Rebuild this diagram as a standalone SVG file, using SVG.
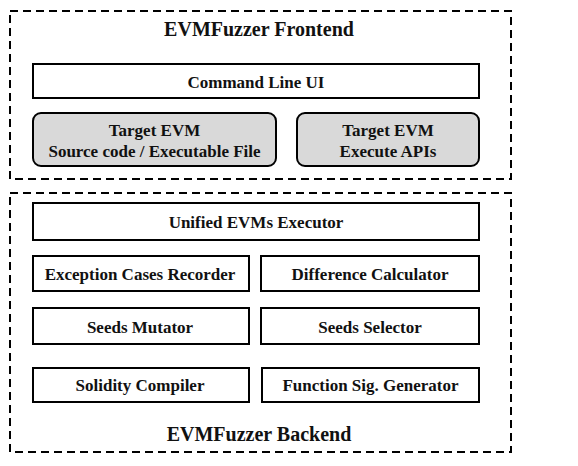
<svg xmlns="http://www.w3.org/2000/svg" width="578" height="466" viewBox="0 0 578 466">
  <style>
    .frame { fill: none; stroke: #000; stroke-width: 2; stroke-dasharray: 8 5; }
    .box { fill: #fff; stroke: #000; stroke-width: 2; }
    .api { fill: #d9d9d9; stroke: #000; stroke-width: 2; }
    text { font-family: "Liberation Serif", "Times New Roman", serif; font-weight: bold; fill: #111; text-anchor: middle; }
    .title { font-size: 20px; }
    .label { font-size: 17px; }
  </style>
  <rect width="578" height="466" fill="#fff"/>

  <!-- Frontend layer -->
  <g id="frontend">
    <rect class="frame" x="10" y="11" width="501" height="168"/>
    <text class="title" x="259" y="36">EVMFuzzer Frontend</text>
  </g>
  <g id="command-line-ui">
    <rect class="box" x="33" y="64" width="446" height="34"/>
    <text class="label" x="256" y="88">Command Line UI</text>
  </g>
  <g id="target-evm-source">
    <rect class="api" x="33" y="113" width="243" height="53" rx="8"/>
    <text class="label" x="154.5" y="136">Target EVM</text>
    <text class="label" x="154.5" y="157">Source code / Executable File</text>
  </g>
  <g id="target-evm-apis">
    <rect class="api" x="297" y="113" width="182" height="53" rx="8"/>
    <text class="label" x="388" y="136">Target EVM</text>
    <text class="label" x="388" y="157">Execute APIs</text>
  </g>

  <!-- Backend layer -->
  <g id="backend">
    <rect class="frame" x="10" y="193" width="501" height="259"/>
    <text class="title" x="259" y="441">EVMFuzzer Backend</text>
  </g>
  <g id="unified-executor">
    <rect class="box" x="33" y="203" width="446" height="37"/>
    <text class="label" x="256" y="228">Unified EVMs Executor</text>
  </g>
  <g id="exception-recorder">
    <rect class="box" x="33" y="256" width="216" height="35"/>
    <text class="label" x="140" y="280">Exception Cases Recorder</text>
  </g>
  <g id="difference-calculator">
    <rect class="box" x="261" y="256" width="218" height="35"/>
    <text class="label" x="370" y="280">Difference Calculator</text>
  </g>
  <g id="seeds-mutator">
    <rect class="box" x="33" y="308" width="216" height="36"/>
    <text class="label" x="140" y="333">Seeds Mutator</text>
  </g>
  <g id="seeds-selector">
    <rect class="box" x="261" y="308" width="218" height="36"/>
    <text class="label" x="370" y="333">Seeds Selector</text>
  </g>
  <g id="solidity-compiler">
    <rect class="box" x="33" y="368" width="216" height="34"/>
    <text class="label" x="140" y="391">Solidity Compiler</text>
  </g>
  <g id="function-sig-generator">
    <rect class="box" x="262" y="368" width="217" height="34"/>
    <text class="label" x="370.5" y="391">Function Sig. Generator</text>
  </g>

  <!-- Connectors: the layers are stacked without links -->
  <g id="connectors"></g>
</svg>
